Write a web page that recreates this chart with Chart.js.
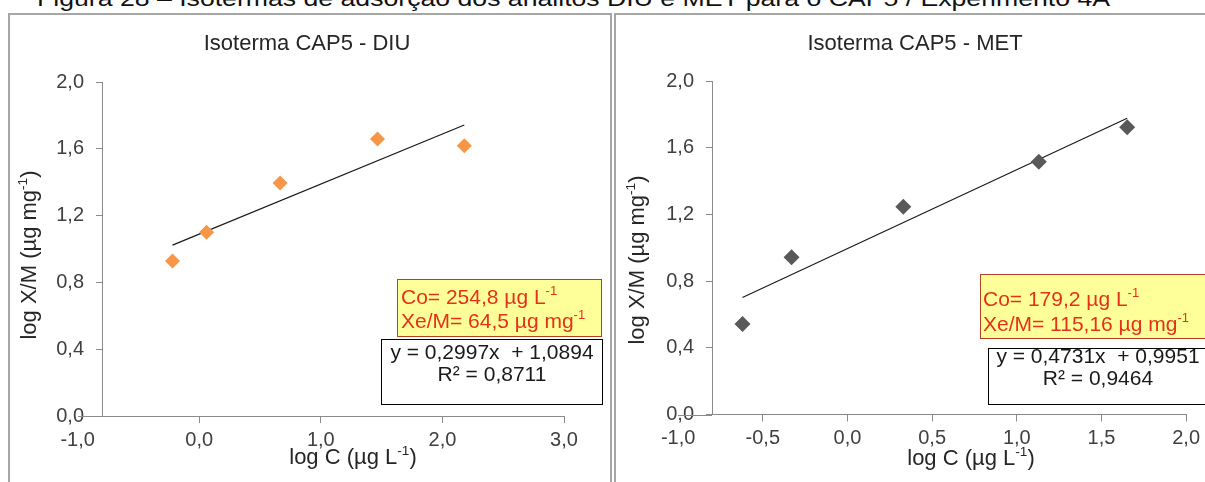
<!DOCTYPE html>
<html><head><meta charset="utf-8">
<script src="https://cdn.jsdelivr.net/npm/chart.js@4/dist/chart.umd.min.js"></script>
<style>
html,body{margin:0;padding:0;background:#fff;}
body{width:1205px;height:482px;overflow:hidden;position:relative;font-family:"Liberation Sans",Arial,sans-serif;}
#cap{position:absolute;left:37px;top:-12px;font-size:22px;line-height:22px;white-space:nowrap;color:#111;transform-origin:0 0;}
.panel{position:absolute;top:13px;border:2px solid #a6a6a6;border-bottom:none;height:480px;}
#p1{left:8px;width:600px;}
#p2{left:614px;width:600px;border-right:none;}
.panel canvas{position:absolute;left:0;top:0;}
</style></head>
<body>
<div id="cap">Figura 28 – Isotermas de adsorção dos analitos DIU e MET para o CAP5 / Experimento 4A</div>
<div class="panel" id="p1"><canvas id="c1" width="600" height="467"></canvas></div>
<div class="panel" id="p2"><canvas id="c2" width="589" height="467"></canvas></div>
<script>
// ---- data ----
const diuLogC  = [-0.22, 0.06, 0.665, 1.466, 2.18];
const diuLogXM = [0.928, 1.10, 1.395, 1.659, 1.618];
const diuSlope = 0.2997, diuIntercept = 1.0894;

const metLogC  = [-0.62, -0.33, 0.33, 1.13, 1.652];
const metLogXM = [0.543, 0.943, 1.246, 1.516, 1.722];
const metSlope = 0.4731, metIntercept = 0.9951;

const yTicks    = [0, 0.4, 0.8, 1.2, 1.6, 2.0];
const diuXTicks = [-1, 0, 1, 2, 3];
const metXTicks = [-1, -0.5, 0, 0.5, 1, 1.5, 2];

// ---- helpers ----
const FONT = '"Liberation Sans", Arial, sans-serif';
Chart.defaults.font.family = FONT;
const fmt = v => Number(v).toFixed(1).replace('.', ',');
const AXIS = '#8a8a8a';

function richWidth(ctx, segs, size) {
  let w = 0;
  for (const s of segs) {
    ctx.font = (s.sup ? size * 0.62 : size) + 'px ' + FONT;
    w += ctx.measureText(s.t).width;
  }
  return w;
}
function drawRich(ctx, segs, x, y, align, size, color) {
  const w = richWidth(ctx, segs, size);
  let cx = align === 'center' ? x - w / 2 : x;
  ctx.fillStyle = color;
  ctx.textBaseline = 'middle';
  ctx.textAlign = 'left';
  for (const s of segs) {
    const fs = s.sup ? size * 0.62 : size;
    ctx.font = fs + 'px ' + FONT;
    ctx.fillText(s.t, cx, s.sup ? y - size * 0.3 : y);
    cx += ctx.measureText(s.t).width;
  }
}

const deco = {
  id: 'deco',
  afterDraw(chart, args, o) {
    const ctx = chart.ctx;
    const xs = chart.scales.x, area = chart.chartArea;
    ctx.save();
    // horizontal axis continues left of the vertical axis down to -1,0
    ctx.strokeStyle = AXIS; ctx.lineWidth = 1;
    ctx.beginPath();
    ctx.moveTo(Math.round(xs.getPixelForValue(-1)), Math.round(area.bottom) + 0.5);
    ctx.lineTo(area.left, Math.round(area.bottom) + 0.5);
    ctx.stroke();

    drawRich(ctx, [{t: o.title}], o.titlePos[0], o.titlePos[1], 'center', 22, '#262626');
    drawRich(ctx, o.xTitle, o.xTitlePos[0], o.xTitlePos[1], 'center', 22, '#262626');
    ctx.save();
    ctx.translate(o.yTitlePos[0], o.yTitlePos[1]);
    ctx.rotate(-Math.PI / 2);
    drawRich(ctx, o.yTitle, 0, 0, 'center', 22, '#262626');
    ctx.restore();
    for (const b of o.boxes) {
      ctx.fillStyle = b.fill;
      ctx.fillRect(b.x, b.y, b.w, b.h);
      ctx.strokeStyle = b.stroke;
      ctx.lineWidth = 1;
      ctx.strokeRect(b.x + 0.5, b.y + 0.5, b.w - 1, b.h - 1);
      for (const l of b.lines) drawRich(ctx, l.segs, l.x, l.y, b.align, 21, b.color);
    }
    ctx.restore();
  }
};

function makeChart(id, xs, ys, slope, intercept, color, radius, xTicks, xMax, yAxisW, padRight, d) {
  const xMin = -0.8;
  const pts = xs.map((x, i) => ({x, y: ys[i]}));
  const x0 = xs[0], x1 = xs[xs.length - 1];
  const fit = [{x: x0, y: slope * x0 + intercept}, {x: x1, y: slope * x1 + intercept}];
  return new Chart(document.getElementById(id), {
    type: 'scatter',
    data: {
      datasets: [
        {data: fit, showLine: true, pointRadius: 0, borderColor: '#1a1a1a', borderWidth: 1.2, order: 2},
        {data: pts, pointStyle: 'rectRot', pointRadius: radius, pointHoverRadius: radius,
         backgroundColor: color, borderColor: color, borderWidth: 0, order: 1}
      ]
    },
    options: {
      responsive: false, animation: false, events: [],
      layout: {padding: {left: 0, right: padRight, top: d.top, bottom: 0}},
      plugins: {legend: {display: false}, tooltip: {enabled: false}, deco: d},
      scales: {
        x: {
          type: 'linear', min: xMin, max: xMax,
          afterBuildTicks: s => { s.ticks = xTicks.map(v => ({value: v})); },
          afterFit: s => { s.height = d.xAxisH; },
          ticks: {callback: v => fmt(v), color: '#404040', font: {size: 20}, padding: 5, maxRotation: 0, autoSkip: false},
          grid: {drawOnChartArea: false, drawTicks: true, tickLength: 7,
                 tickColor: c => (c.tick && c.tick.value < xMin) ? 'rgba(0,0,0,0)' : AXIS},
          border: {color: AXIS, width: 1}
        },
        y: {
          type: 'linear', min: 0, max: 2,
          afterBuildTicks: s => { s.ticks = yTicks.map(v => ({value: v})); },
          afterFit: s => { s.width = yAxisW; },
          ticks: {callback: v => fmt(v), color: '#404040', font: {size: 20}, padding: 12},
          grid: {drawOnChartArea: false, drawTicks: true, tickLength: 6, tickColor: AXIS},
          border: {color: AXIS, width: 1}
        }
      }
    },
    plugins: [deco]
  });
}

const YELLOW = '#ffff99', YSTROKE = '#b8401e', RED = '#e5311b';

makeChart('c1', diuLogC, diuLogXM, diuSlope, diuIntercept, '#f79646', 7.5, diuXTicks, 3, 92, 46, {
  top: 67, xAxisH: 66,
  title: 'Isoterma CAP5 - DIU', titlePos: [297, 29],
  xTitle: [{t: 'log C (µg L'}, {t: '-1', sup: true}, {t: ')'}], xTitlePos: [343, 443],
  yTitle: [{t: 'log X/M (µg mg'}, {t: '-1', sup: true}, {t: ')'}], yTitlePos: [20, 240],
  boxes: [
    {x: 387, y: 264, w: 205, h: 58, fill: YELLOW, stroke: YSTROKE, color: RED, align: 'left',
     lines: [{x: 391, y: 283, segs: [{t: 'Co= 254,8 µg L'}, {t: '-1', sup: true}]},
             {x: 391, y: 307, segs: [{t: 'Xe/M= 64,5 µg mg'}, {t: '-1', sup: true}]}]},
    {x: 371, y: 324, w: 222, h: 66, fill: '#ffffff', stroke: '#000000', color: '#1a1a1a', align: 'center',
     lines: [{x: 482, y: 338, segs: [{t: 'y = 0,2997x  + 1,0894'}]},
             {x: 482, y: 360, segs: [{t: 'R² = 0,8711'}]}]}
  ]
});

makeChart('c2', metLogC, metLogXM, metSlope, metIntercept, '#595959', 8, metXTicks, 2, 96, 15.4, {
  top: 66, xAxisH: 67.5,
  title: 'Isoterma CAP5 - MET', titlePos: [299, 29],
  xTitle: [{t: 'log C (µg L'}, {t: '-1', sup: true}, {t: ')'}], xTitlePos: [355, 444],
  yTitle: [{t: 'log X/M (µg mg'}, {t: '-1', sup: true}, {t: ')'}], yTitlePos: [22, 245],
  boxes: [
    {x: 364, y: 259, w: 240, h: 65, fill: YELLOW, stroke: YSTROKE, color: RED, align: 'left',
     lines: [{x: 367, y: 285, segs: [{t: 'Co= 179,2 µg L'}, {t: '-1', sup: true}]},
             {x: 367, y: 310, segs: [{t: 'Xe/M= 115,16 µg mg'}, {t: '-1', sup: true}]}]},
    {x: 372, y: 333, w: 240, h: 57, fill: '#ffffff', stroke: '#000000', color: '#1a1a1a', align: 'center',
     lines: [{x: 482, y: 342, segs: [{t: 'y = 0,4731x  + 0,9951'}]},
             {x: 482, y: 364, segs: [{t: 'R² = 0,9464'}]}]}
  ]
});

// fit caption width to the reference span
const cap = document.getElementById('cap');
const cw = cap.getBoundingClientRect().width;
cap.style.transform = 'scaleX(' + (1073 / cw) + ')';
</script>
</body></html>
